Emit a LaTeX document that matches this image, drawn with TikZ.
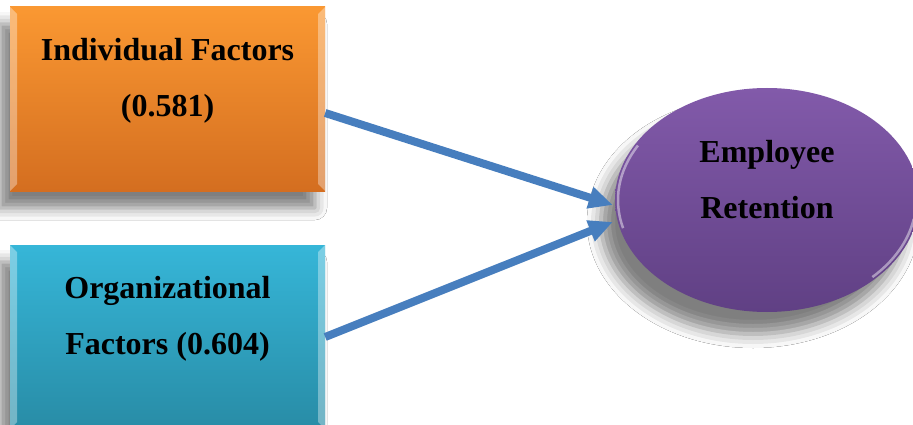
\documentclass[tikz,border=0pt]{standalone}
\usepackage{fontspec}
\setmainfont{Liberation Serif}
\usepackage{xcolor}
\definecolor{indtop}{RGB}{250,152,50}
\definecolor{indbot}{RGB}{212,110,32}
\definecolor{orgtop}{RGB}{54,182,216}
\definecolor{orgbot}{RGB}{40,140,166}
\definecolor{rettop}{RGB}{130,90,170}
\definecolor{retbot}{RGB}{96,64,132}
\definecolor{arrblue}{RGB}{71,126,190}
\usetikzlibrary{arrows.meta, positioning, shapes.geometric, shadows.blur}

\tikzset{
  lbl/.style={font=\fontsize{32}{56}\selectfont\bfseries, align=center, text=black, yshift=18pt},
  bevel/.style={path picture={
      \fill[white, opacity=.35] (path picture bounding box.north west) -- ++(7pt,-7pt)
        -- ([shift={(7pt,7pt)}]path picture bounding box.south west) -- (path picture bounding box.south west) -- cycle;
      \fill[white, opacity=.35] (path picture bounding box.north east) -- ++(-7pt,-7pt)
        -- ([shift={(-7pt,7pt)}]path picture bounding box.south east) -- (path picture bounding box.south east) -- cycle;
  }},
  factor/.style={rectangle, minimum width=315pt, minimum height=184pt, inner sep=0pt, bevel,
      blur shadow={shadow xshift=-10pt, shadow yshift=-17pt, shadow blur radius=12pt, shadow opacity=50}},
  outcome/.style={ellipse, minimum width=304pt, minimum height=224pt, inner sep=0pt,
      blur shadow={shadow xshift=-14pt, shadow yshift=-22pt, shadow blur radius=14pt, shadow opacity=50},
      path picture={
        \draw[white, opacity=.45, line width=2.5pt] ([shift={(150:149pt and 109pt)}]path picture bounding box.center)
          arc[start angle=150, end angle=195, x radius=149pt, y radius=109pt];
        \draw[white, opacity=.45, line width=2.5pt] ([shift={(-45:149pt and 109pt)}]path picture bounding box.center)
          arc[start angle=-45, end angle=-10, x radius=149pt, y radius=109pt];
  }},
  link/.style={arrblue, line width=8pt, -{Triangle[length=24pt, width=21pt]}},
}

\begin{document}
\begin{tikzpicture}[x=1pt, y=-1pt]
  \path[use as bounding box, fill=white] (0,0) rectangle (913,425);

  % Factors
  \node[factor, top color=indtop, bottom color=indbot] (ind) at (167.5,99) {};
  \node[lbl] (indtext) at (ind) {Individual Factors\\(0.581)};
  \node[factor, top color=orgtop, bottom color=orgbot] (org) at (167.5,337) {};
  \node[lbl] (orgtext) at (org) {Organizational\\Factors (0.604)};

  % Outcome
  \node[outcome, top color=rettop, bottom color=retbot] (ret) at (767,200) {};
  \node[lbl, yshift=2pt] (rettext) at (ret) {Employee\\Retention};

  % Arrows
  \draw[link] ([yshift=-14pt]ind.east) -- ([shift={(-2pt,-5pt)}]ret.west);
  \draw[link] (org.east) -- ([shift={(-2pt,-22pt)}]ret.west);
\end{tikzpicture}
\end{document}
